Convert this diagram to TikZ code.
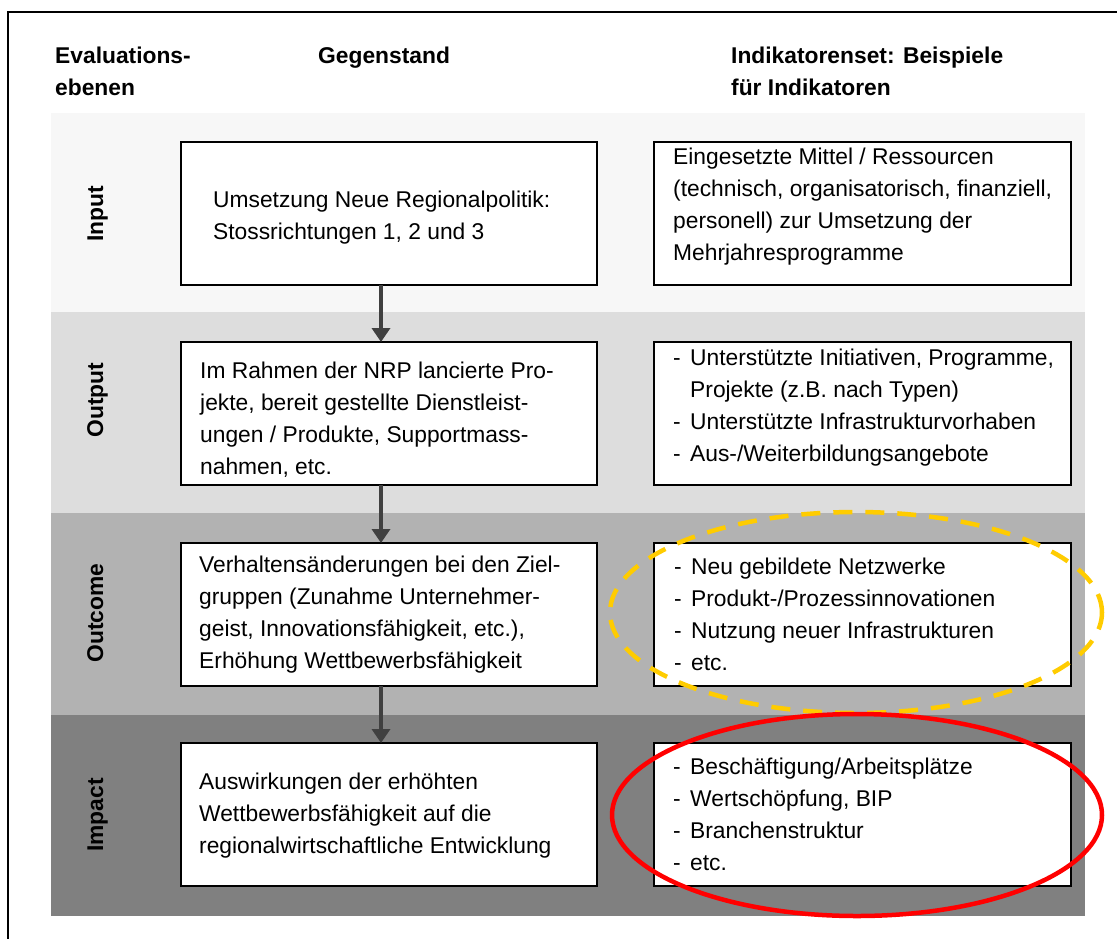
\documentclass[tikz,border=0pt]{standalone}
\usepackage{fontspec}
\setmainfont{Liberation Sans}
\usetikzlibrary{arrows.meta,positioning,calc}
\definecolor{bandA}{HTML}{F7F7F7}
\definecolor{bandB}{HTML}{DDDDDD}
\definecolor{bandC}{HTML}{B2B2B2}
\definecolor{bandD}{HTML}{808080}
\definecolor{arrgray}{HTML}{404040}
\definecolor{markyellow}{HTML}{FFCC00}
\newcommand\dl{\makebox[17pt][l]{-}}
\newcommand\di{\hspace*{17pt}}
\tikzset{
	txt/.style={font=\fontsize{22.8}{32}\selectfont,align=left,inner sep=0pt,anchor=base west},
	hdr/.style={txt,font=\fontsize{22.8}{32}\selectfont\bfseries},
	lvl/.style={font=\fontsize{22.8}{27}\selectfont\bfseries,rotate=90,anchor=base,inner sep=0pt},
	box/.style={draw=black,line width=1.7pt,fill=white,minimum height=143pt,anchor=north west,inner sep=0pt,outer sep=0pt},
	lbox/.style={box,minimum width=416pt},
	rbox/.style={box,minimum width=417pt},
	arr/.style={draw=arrgray,line width=4.8pt,-{Triangle[length=14pt,width=18pt]}}
}
\begin{document}
\begin{tikzpicture}[x=1pt,y=-1pt]
	\useasboundingbox (0,0) rectangle (1117,938);
	\fill[white] (0,0) rectangle (1117,938);
	\draw[line width=2pt] (8,960) -- (8,12) -- (1140,12);
	\foreach \c/\t/\b in {bandA/113/312,bandB/312/513,bandC/513/715,bandD/715/916}
		\fill[\c] (51,\t) rectangle (1085,\b);
	\node[hdr] (h1) at (55,95) {Evaluations-\\ebenen};
	\node[hdr] (h2) at (318,63) {Gegenstand};
	\node[hdr] (h3) at (731,95) {Indikatorenset: Beispiele\\für Indikatoren};
	\foreach \n/\y/\v/\l in {in/142/71.5/Input,out/342/58/Output,oc/543/70/Outcome,im/743/72/Impact}{
		\node[lbox] (\n L) at (181,\y) {};
		\node[rbox] (\n R) at (654,\y) {};
		\node[lvl] (\n V) at (103,\y+\v) {\l};
	}
	\coordinate (ax) at (381,0);
	\draw[arr] (inL.south -| ax) -- (outL.north -| ax);
	\draw[arr] (outL.south -| ax) -- (ocL.north -| ax);
	\draw[arr] (ocL.south -| ax) -- (imL.north -| ax);
	\node[txt] (inLt) at ($(inL.north west)+(32,97)$) {Umsetzung Neue Regionalpolitik:\\Stossrichtungen 1, 2 und 3};
	\node[txt] (inRt) at ($(inR.north west)+(19,118)$) {Eingesetzte Mittel / Ressourcen\\(technisch, organisatorisch, finanziell,\\personell) zur Umsetzung der\\Mehrjahresprogramme};
	\node[txt] (outLt) at ($(outL.north west)+(19,132)$) {Im Rahmen der NRP lancierte Pro-\\jekte, bereit gestellte Dienstleist-\\ungen / Produkte, Supportmass-\\nahmen, etc.};
	\node[txt] (outRt) at ($(outR.north west)+(19,119)$) {\dl Unterstützte Initiativen, Programme,\\\di Projekte (z.B. nach Typen)\\\dl Unterstützte Infrastrukturvorhaben\\\dl Aus-/Weiterbildungsangebote};
	\node[txt] (ocLt) at ($(ocL.north west)+(18,125)$) {Verhaltensänderungen bei den Ziel-\\gruppen (Zunahme Unternehmer-\\geist, Innovationsfähigkeit, etc.),\\Erhöhung Wettbewerbsfähigkeit};
	\node[txt] (ocRt) at ($(ocR.north west)+(20,127)$) {\dl Neu gebildete Netzwerke\\\dl Produkt-/Prozessinnovationen\\\dl Nutzung neuer Infrastrukturen\\\dl etc.};
	\node[txt] (imLt) at ($(imL.north west)+(18,110)$) {Auswirkungen der erhöhten\\Wettbewerbsfähigkeit auf die\\regionalwirtschaftliche Entwicklung};
	\node[txt] (imRt) at ($(imR.north west)+(19,127)$) {\dl Beschäftigung/Arbeitsplätze\\\dl Wertschöpfung, BIP\\\dl Branchenstruktur\\\dl etc.};
	\draw[markyellow,line width=4.5pt,dash pattern=on 19pt off 13pt] (856,612.5) ellipse [x radius=246pt,y radius=100.5pt];
	\draw[red,line width=4.5pt] (857,815) ellipse [x radius=245pt,y radius=101pt];
\end{tikzpicture}
\end{document}
